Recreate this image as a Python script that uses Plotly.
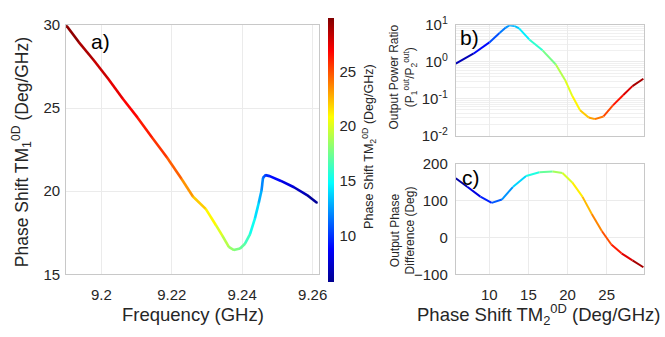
import plotly.graph_objects as go
from plotly.colors import sample_colorscale

# ---- data ----
# panel a: frequency vs TM1 phase shift, colored by TM2 phase shift
freq = [9.1900, 9.1936, 9.1978, 9.2020, 9.2061, 9.2103, 9.2144, 9.2186, 9.2228, 9.2260,
        9.2297, 9.2325, 9.2344, 9.2362, 9.2376, 9.2394, 9.2408, 9.2422, 9.2436, 9.2447,
        9.2455, 9.2459, 9.2466, 9.2478, 9.2510, 9.2547, 9.2584, 9.2612]
tm1 = [30.0, 28.98, 27.9, 26.76, 25.57, 24.43, 23.24, 22.05, 20.74, 19.68,
       18.92, 17.97, 17.31, 16.65, 16.46, 16.55, 16.84, 17.40, 18.35, 19.30,
       20.06, 20.81, 20.97, 20.91, 20.62, 20.24, 19.77, 19.30]
tm2_a = [29.9, 29.2, 28.5, 27.8, 27.1, 26.6, 26.0, 25.3, 24.0, 22.8,
         21.4, 20.6, 19.6, 18.7, 18.1, 17.5, 16.8, 15.8, 14.6, 13.5,
         12.5, 11.5, 10.2, 9.5, 8.5, 7.5, 6.5, 5.8]

# panel b: output power ratio vs TM2
tm2_b = [5.7, 8.0, 10.0, 11.3, 12.1, 12.6, 13.2, 13.8, 15.1, 16.8, 18.5, 19.7, 20.6,
         21.6, 22.7, 23.5, 24.6, 25.8, 27.1, 28.3, 29.7]
ratio = [0.9, 1.7, 3.4, 6.1, 8.6, 10.0, 9.5, 8.2, 4.1, 2.07, 0.85, 0.32, 0.12,
         0.049, 0.031, 0.028, 0.033, 0.066, 0.124, 0.22, 0.35]

# panel c: output phase difference vs TM2
tm2_c = [5.7, 7.17, 8.85, 10.3, 11.6, 13.0, 14.7, 16.4, 18.1, 19.35, 20.6, 21.9,
         23.1, 24.4, 25.6, 26.9, 28.3, 29.7]
phase_diff = [161, 138, 111, 94, 103, 137, 167, 177, 179.5, 175, 149.5, 111,
              64, 17, -19, -43, -62, -81]

CMIN, CMAX = 5.8, 29.9
jet = [[0, 'rgb(0,0,143)'], [0.125, 'rgb(0,0,255)'], [0.375, 'rgb(0,255,255)'],
       [0.625, 'rgb(255,255,0)'], [0.875, 'rgb(255,0,0)'], [1, 'rgb(128,0,0)']]


def col(v):
    t = min(max((v - CMIN) / (CMAX - CMIN), 0), 1)
    return sample_colorscale(jet, [t])[0]


fig = go.Figure()


def add_segments(xs, ys, cs, xa, ya, width):
    for i in range(len(xs) - 1):
        fig.add_trace(go.Scatter(
            x=[xs[i], xs[i + 1]], y=[ys[i], ys[i + 1]], mode='lines',
            line=dict(color=col((cs[i] + cs[i + 1]) / 2), width=width),
            xaxis=xa, yaxis=ya, showlegend=False, hoverinfo='skip'))


add_segments(freq, tm1, tm2_a, 'x', 'y', 2.6)
add_segments(tm2_b, ratio, tm2_b, 'x2', 'y2', 2)
add_segments(tm2_c, phase_diff, tm2_c, 'x3', 'y3', 2)

FONT = 'Liberation Sans, Arial, sans-serif'
TXT = '#262626'

# colorbar carrier
fig.add_trace(go.Scatter(
    x=freq, y=tm1, mode='markers', xaxis='x', yaxis='y', showlegend=False,
    marker=dict(size=2, color=tm2_a, colorscale=jet, cmin=CMIN, cmax=CMAX,
                showscale=True,
                colorbar=dict(x=332 / 665, xanchor='left', xpad=0, ypad=0,
                              y=1 - 147 / 337, yanchor='middle',
                              len=264, lenmode='pixels', thickness=6,
                              outlinewidth=0, tickvals=[10, 15, 20, 25],
                              ticks='outside', ticklen=3, tickcolor='rgba(0,0,0,0)',
                              tickfont=dict(size=15, color=TXT, family=FONT)))))

axcommon = dict(showline=True, mirror=True, linecolor='#c8c8c8', linewidth=1,
                gridcolor='#ebebeb', zeroline=False, ticks='',
                tickfont=dict(size=15, color=TXT, family=FONT))

fig.update_layout(
    width=665, height=337, margin=dict(l=0, r=0, t=0, b=0),
    paper_bgcolor='white', plot_bgcolor='white',
    font=dict(family=FONT, color=TXT),
    xaxis=dict(domain=[67 / 665, 323 / 665], range=[9.19, 9.2617],
               tickvals=[9.2, 9.22, 9.24, 9.26], ticktext=['9.2', '9.22', '9.24', '9.26'],
               ticklabelstandoff=7, anchor='y', **axcommon),
    yaxis=dict(domain=[1 - 279 / 337, 1 - 15 / 337], range=[15, 30],
               tickvals=[15, 20, 25, 30], ticklabelstandoff=2, anchor='x', **axcommon),
    xaxis2=dict(domain=[462 / 665, 653 / 665], range=[5.7, 29.8],
                tickvals=[10, 20], showticklabels=False, anchor='y2', **axcommon),
    yaxis2=dict(domain=[1 - 132 / 337, 1 - 15 / 337], type='log', range=[-2, 1],
                tickvals=[0.01, 0.1, 1, 10],
                ticktext=['10<sup>-2</sup>', '10<sup>-1</sup>', '10<sup>0</sup>', '10<sup>1</sup>'],
                minor=dict(showgrid=True, gridcolor='#f0f0f0', dtick='D1'),
                ticklabelstandoff=4, anchor='x2', **axcommon),
    xaxis3=dict(domain=[462 / 665, 653 / 665], range=[5.7, 29.8],
                tickvals=[10, 15, 20, 25], ticklabelstandoff=7, anchor='y3', **axcommon),
    yaxis3=dict(domain=[1 - 279 / 337, 1 - 162 / 337], range=[-100, 200],
                tickvals=[-100, 0, 100, 200], ticklabelstandoff=4, anchor='x3', **axcommon),
)

ann = [
    dict(text='a)', x=102 / 665, y=1 - 32 / 337, size=21),
    dict(text='b)', x=476 / 665, y=1 - 28 / 337, size=21),
    dict(text='c)', x=477 / 665, y=1 - 176 / 337, size=21),
    dict(text='Frequency (GHz)', x=196 / 665, y=1 - 322 / 337, size=18.5),
    dict(text='Phase Shift TM<sub>2</sub><sup>0D</sup> (Deg/GHz)', x=546 / 665, y=1 - 322 / 337, size=18.5),
    dict(text='Phase Shift TM<sub>1</sub><sup>0D</sup> (Deg/GHz)', x=22 / 665, y=1 - 150 / 337, size=17.5, rot=-90),
    dict(text='Phase Shift TM<sub>2</sub><sup>0D</sup> (Deg/GHz)', x=374 / 665, y=1 - 143 / 337, size=12.5, rot=-90),
    dict(text='Output Power Ratio<br>(P<sub>1</sub><sup>out</sup>/P<sub>2</sub><sup>out</sup>)',
         x=408 / 665, y=1 - 70 / 337, size=12, rot=-90),
    dict(text='Output Phase<br>Difference (Deg)', x=408 / 665, y=1 - 232 / 337, size=12, rot=-90),
]
for a in ann:
    fig.add_annotation(text=a['text'], x=a['x'], y=a['y'], xref='paper', yref='paper',
                       showarrow=False, textangle=a.get('rot', 0),
                       xanchor='center', yanchor='middle',
                       font=dict(size=a['size'], color=TXT if a['size'] < 20 else 'black', family=FONT))

fig.write_html('out.html')
